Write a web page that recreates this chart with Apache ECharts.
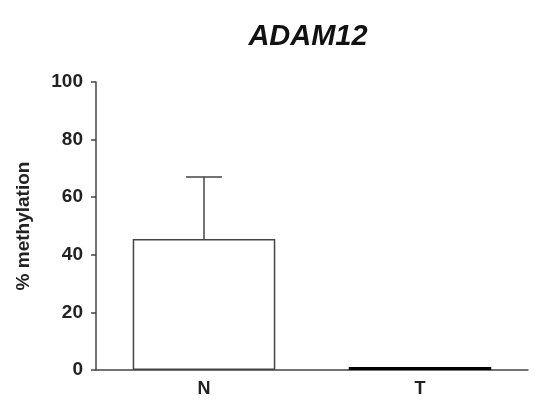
<!DOCTYPE html>
<html><head><meta charset="utf-8">
<script src="https://cdn.jsdelivr.net/npm/echarts@6/dist/echarts.min.js"></script>
<style>html,body{margin:0;padding:0;background:#fff}#c{width:550px;height:419px}</style>
</head><body><div id="c"></div>
<script>
var categories = ['N', 'T'];
var means = [45.5, 1.0];
var errors = [21.5, 0];
var yTicks = [0, 20, 40, 60, 80, 100];

var chart = echarts.init(document.getElementById('c'));
var errData = categories.map(function (c, i) { return [i, means[i], means[i] + errors[i]]; })
  .filter(function (d) { return d[2] > d[1]; });
chart.setOption({
  animation: false,
  title: {
    text: 'ADAM12', left: 303, top: 17, textAlign: 'center',
    textStyle: { fontFamily: 'Liberation Sans', fontStyle: 'italic', fontWeight: 'bold', fontSize: 29, color: '#111' }
  },
  grid: { left: 96, right: 22, top: 82, bottom: 49 },
  xAxis: {
    type: 'category', data: categories,
    axisLine: { lineStyle: { color: '#444', width: 1.5 } },
    axisTick: { alignWithLabel: true, length: 5, lineStyle: { color: '#444', width: 1.5 } },
    axisLabel: { margin: 10, fontFamily: 'Liberation Sans', fontWeight: 'bold', fontSize: 18, color: '#222' }
  },
  yAxis: {
    type: 'value', min: 0, max: 100, interval: 20,
    name: '% methylation', nameLocation: 'middle', nameGap: 63,
    nameTextStyle: { fontFamily: 'Liberation Sans', fontWeight: 'bold', fontSize: 19, color: '#222' },
    axisLine: { show: true, lineStyle: { color: '#444', width: 1.5 } },
    axisTick: { show: true, length: 5, lineStyle: { color: '#444', width: 1.5 } },
    splitLine: { show: false },
    axisLabel: { margin: 13, fontFamily: 'Liberation Sans', fontWeight: 'bold', fontSize: 19, color: '#222',
      formatter: function (v) { return yTicks.indexOf(v) >= 0 ? String(v) : ''; } }
  },
  series: [
    {
      type: 'bar', data: means.map(function (v, i) {
        return i === 1 ? { value: v, itemStyle: { color: '#000', borderColor: '#000', borderWidth: 1.5 } } : v;
      }),
      barWidth: '66%',
      itemStyle: { color: '#fff', borderColor: '#444', borderWidth: 1.5 }
    },
    {
      type: 'custom', data: errData, z: 1,
      renderItem: function (params, api) {
        var x = api.value(0);
        var p0 = api.coord([x, api.value(1)]);
        var p1 = api.coord([x, api.value(2)]);
        var hw = 18;
        return {
          type: 'group', children: [
            { type: 'line', shape: { x1: p0[0], y1: p0[1], x2: p1[0], y2: p1[1] }, style: { stroke: '#444', lineWidth: 1.5 } },
            { type: 'line', shape: { x1: p1[0] - hw, y1: p1[1], x2: p1[0] + hw, y2: p1[1] }, style: { stroke: '#444', lineWidth: 1.5 } }
          ]
        };
      }
    }
  ]
});
</script></body></html>
